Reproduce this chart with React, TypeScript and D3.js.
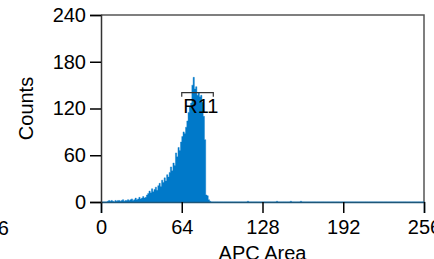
import React, { useEffect, useRef } from 'react';
import * as d3 from 'd3';

// histogram counts for channels 0..90 (APC Area, 256 channels)
const counts = [
  0, 0, 0, 0, 0, 1, 2, 1, 2, 1,
  0, 2, 1, 2, 2, 1, 2, 3, 1, 2,
  2, 3, 2, 3, 4, 2, 3, 5, 3, 4,
  6, 4, 5, 7, 5, 6, 9, 11, 14, 12,
  17, 13, 16, 19, 15, 21, 24, 20, 28, 25,
  31, 27, 35, 32, 38, 45, 40, 50, 47, 63,
  58, 70, 66, 77, 84, 90, 88, 96, 104, 115,
  122, 127, 150, 160, 145, 148, 137, 140, 135, 137,
  128, 110, 80, 9, 8, 3, 1, 0, 0, 0, 0,
];
// isolated events further up the scale
const sparseBins = [116, 139, 150, 158];
const sparseCounts = [1, 1, 1, 1];

const xTicks = [0, 64, 128, 192, 256];
const yTicks = [0, 60, 120, 180, 240];
const gate = { name: 'R11', from: 64, to: 89 };

const W = 434;
const H = 259;

export default function App() {
  const ref = useRef<SVGSVGElement>(null);

  useEffect(() => {
    const svg = d3.select(ref.current);
    svg.selectAll('*').remove();

    const left = 101, right = 424, top = 15, bottom = 202;
    const x = d3.scaleLinear().domain([0, 256]).range([left, right]);
    const y = d3.scaleLinear().domain([0, 240]).range([bottom, top]);
    const font = 'Arial, "Liberation Sans", sans-serif';

    const full: number[] = new Array(256).fill(0);
    counts.forEach((c, i) => (full[i] = c));
    sparseBins.forEach((b, i) => (full[b] = sparseCounts[i]));
    const pts = full.map((c, i) => [i, c]);
    pts.push([256, 0]);

    const area = d3.area<number[]>()
      .x(d => x(d[0]))
      .y0(y(0))
      .y1(d => y(d[1]))
      .curve(d3.curveStepAfter);

    // frame
    svg.append('path')
      .attr('d', `M${left},${top}H${right}V${bottom}`)
      .attr('fill', 'none')
      .attr('stroke', '#555')
      .attr('stroke-width', 1.5);

    svg.append('path')
      .datum(pts)
      .attr('d', area)
      .attr('fill', '#0079c9')
      .attr('stroke', '#0079c9')
      .attr('stroke-width', 0.4);

    const xAxis = d3.axisBottom(x).tickValues(xTicks).tickSize(11).tickPadding(7);
    const gx = svg.append('g').attr('transform', `translate(0,${bottom})`).call(xAxis);
    gx.select('.domain').attr('stroke', '#1e5678').attr('stroke-width', 1.5);
    gx.selectAll('.tick line').attr('stroke', '#000').attr('stroke-width', 1.5);
    gx.selectAll('text').attr('font-size', 20).attr('font-family', font).attr('fill', '#000');

    const yAxis = d3.axisLeft(y).tickValues(yTicks).tickSize(11).tickPadding(4);
    const gy = svg.append('g').attr('transform', `translate(${left},0)`).call(yAxis);
    gy.select('.domain').attr('stroke', '#333').attr('stroke-width', 1.5);
    gy.selectAll('.tick line').attr('stroke', '#000').attr('stroke-width', 1.5);
    gy.selectAll('text').attr('font-size', 20).attr('font-family', font).attr('fill', '#000');

    // stray label from a neighbouring plot
    svg.append('text')
      .attr('x', 9).attr('y', 235)
      .attr('text-anchor', 'end')
      .attr('font-size', 20).attr('font-family', font)
      .text('256');

    svg.append('text')
      .attr('x', (left + right) / 2).attr('y', 259.5)
      .attr('text-anchor', 'middle')
      .attr('font-size', 20).attr('font-family', font)
      .text('APC Area');

    svg.append('text')
      .attr('transform', `translate(33,${(top + bottom) / 2}) rotate(-90)`)
      .attr('text-anchor', 'middle')
      .attr('font-size', 20).attr('font-family', font)
      .text('Counts');

    // gate R11
    const gy0 = 92.7;
    svg.append('path')
      .attr('d', `M${x(gate.from)},${gy0 + 4}V${gy0}H${x(gate.to)}V${gy0 + 4}`)
      .attr('fill', 'none')
      .attr('stroke', '#333')
      .attr('stroke-width', 1.2);
    svg.append('text')
      .attr('x', x(gate.from) + 1.5).attr('y', 113)
      .attr('font-size', 20).attr('font-family', font)
      .text(gate.name);
  }, []);

  return (
    <svg ref={ref} width={W} height={H}
      style={{ position: 'absolute', left: 0, top: 0, background: '#fff' }} />
  );
}
